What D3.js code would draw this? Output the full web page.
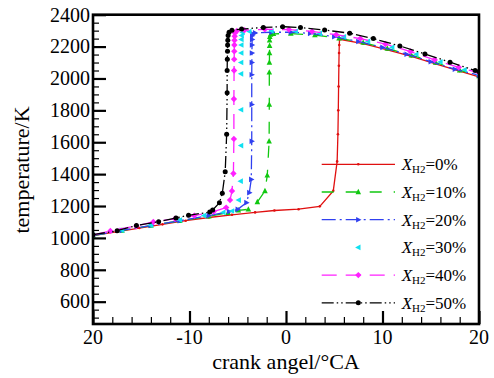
<!DOCTYPE html>
<html>
<head>
<meta charset="utf-8">
<script src="https://cdn.jsdelivr.net/npm/d3@7"></script>
<style>
  body { margin: 0; background: #fff; }
  svg { display: block; }
</style>
</head>
<body>
<svg width="494" height="378"></svg>
<script>
// tick labels
let xTicks = [-20, -10, 0, 10, 20];
let xTickLabels = ['20', '-10', '0', '10', '20'];
let yTicks = [600, 800, 1000, 1200, 1400, 1600, 1800, 2000, 2200, 2400];

let seriesNames = ['0%', '10%', '20%', '30%', '40%', '50%'];

// [crank angle, temperature]
let h2_0 = [[-20,1014],[-17.6,1038],[-15.2,1062],[-12.8,1085],[-10.4,1108],[-8,1128],[-5.6,1145],[-3.2,1160],[-1.2,1172],[1.3,1180],[3.5,1198],[4.9,1295],[5.3,1480],[5.38,1650],[5.42,1800],[5.45,1950],[5.48,2080],[5.5,2160],[5.52,2210],[5.55,2246],[8,2218],[10.5,2180],[13,2138],[15.5,2092],[18,2046],[20,2010]];
let h2_10 = [[-20,1015],[-17,1046],[-14,1077],[-11,1107],[-8,1135],[-6,1158],[-4.94,1173],[-3.9,1179],[-2.97,1225],[-2.18,1294],[-1.94,1392],[-1.75,1606],[-1.73,1836],[-1.73,2038],[-1.72,2100],[-1.71,2160],[-1.7,2205],[-1.7,2240],[-1.68,2262],[-1.6,2275],[-1.3,2280],[0.5,2282],[3,2272],[5.5,2252],[8,2225],[10.5,2188],[13,2146],[15.5,2100],[18,2052],[20,2015]];
let h2_20 = [[-20,1016],[-17,1047],[-14,1078],[-11,1108],[-8,1140],[-5.9,1165],[-5,1179],[-4.1,1221],[-3.8,1284],[-3.6,1367],[-3.55,1606],[-3.55,1836],[-3.55,2023],[-3.54,2100],[-3.53,2160],[-3.52,2210],[-3.51,2245],[-3.5,2268],[-3.45,2280],[-3.2,2286],[-1.5,2290],[0.5,2290],[2.5,2283],[5,2262],[7.5,2232],[10,2195],[12.5,2152],[15,2105],[17.5,2058],[20,2020]];
let h2_30 = [[-20,1017],[-17,1048],[-14,1080],[-11,1112],[-8.5,1140],[-6.5,1160],[-5.6,1169],[-4.9,1237],[-4.7,1356],[-4.66,1579],[-4.66,1804],[-4.66,2029],[-4.65,2100],[-4.64,2160],[-4.63,2210],[-4.62,2245],[-4.6,2270],[-4.5,2288],[-3.8,2295],[-1.5,2298],[1,2296],[3.5,2283],[6,2262],[8.5,2233],[11,2196],[13.5,2152],[16,2104],[18.5,2055],[20,2025]];
let h2_40 = [[-20,1018],[-18.2,1044],[-15.5,1075],[-13.75,1100],[-11.5,1120],[-9.5,1140],[-7.5,1165],[-6.2,1190],[-5.8,1237],[-5.6,1294],[-5.45,1404],[-5.4,1621],[-5.4,1871],[-5.38,2050],[-5.37,2120],[-5.36,2170],[-5.35,2210],[-5.34,2240],[-5.32,2265],[-5.3,2285],[-5.1,2298],[-4.3,2303],[-2.2,2308],[0.3,2307],[2.7,2295],[5.2,2275],[7.7,2250],[10.3,2216],[12.9,2169],[15.4,2117],[17.9,2070],[20,2035]];
let h2_50 = [[-20,1020],[-17.5,1045],[-15.5,1078],[-13.2,1102],[-11.4,1125],[-10.1,1142],[-7.9,1162],[-7.6,1175],[-6.9,1220],[-6.6,1280],[-6.3,1415],[-6.15,1650],[-6.1,1910],[-6.1,2050],[-6.08,2120],[-6.06,2170],[-6.05,2210],[-6.03,2240],[-6.0,2270],[-5.9,2290],[-5.6,2302],[-4.6,2310],[-2.35,2320],[-0.35,2325],[1.5,2319],[4.0,2304],[6.6,2284],[9.05,2250],[11.8,2204],[14.4,2154],[17.0,2102],[19.6,2050],[20,2043]];

let svg = d3.select('svg');
let plotLeft = 93, plotRight = 479, plotTop = 14.7, plotBottom = 324;
let serif = '"Liberation Serif", "Times New Roman", serif';

let x = d3.scaleLinear().domain([-20, 20]).range([plotLeft, plotRight]);
let y = d3.scaleLinear().domain([460, 2400]).range([plotBottom, plotTop]);

let styles = [
  { data: h2_0,  color: '#e01010', dash: null,              marker: 'dot' },
  { data: h2_10, color: '#10c810', dash: '12,12',           marker: 'triUp' },
  { data: h2_20, color: '#3040f0', dash: '14,4,2,4',        marker: 'triRight' },
  { data: h2_30, color: '#10e0f0', dash: 'none',            marker: 'triLeft' },
  { data: h2_40, color: '#ff20ff', dash: '15,9',            marker: 'diamond' },
  { data: h2_50, color: '#000000', dash: '12,3,1.5,3,1.5,3', marker: 'circle' }
];

let markerPath = {
  dot: 'M-1.3,0a1.3,1.3 0 1,0 2.6,0a1.3,1.3 0 1,0 -2.6,0',
  circle: 'M-2.5,0a2.5,2.5 0 1,0 5,0a2.5,2.5 0 1,0 -5,0',
  triUp: 'M0,-3.2L2.8,2.2L-2.8,2.2Z',
  triRight: 'M3.2,0L-2.2,2.8L-2.2,-2.8Z',
  triLeft: 'M-3.2,0L2.2,2.8L2.2,-2.8Z',
  diamond: 'M0,-3.2L3.2,0L0,3.2L-3.2,0Z'
};

svg.append('clipPath').attr('id', 'plot-clip')
  .append('rect')
  .attr('x', plotLeft).attr('y', plotTop)
  .attr('width', plotRight - plotLeft).attr('height', plotBottom - plotTop);

let line = d3.line().x(d => x(d[0])).y(d => y(d[1]));

let plot = svg.append('g').attr('clip-path', 'url(#plot-clip)');

styles.forEach(s => {
  if (s.dash !== 'none') {
    plot.append('path')
      .datum(s.data)
      .attr('d', line)
      .attr('fill', 'none')
      .attr('stroke', s.color)
      .attr('stroke-width', 1.3)
      .attr('stroke-dasharray', s.dash);
  }
  plot.selectAll(null)
    .data(s.data)
    .enter().append('path')
    .attr('d', markerPath[s.marker])
    .attr('transform', d => `translate(${x(d[0])},${y(d[1])})`)
    .attr('fill', s.color);
});

// axes: major + minor ticks pointing inward
let xMinor = d3.range(-18, 20, 2).filter(v => v % 10 !== 0);
let yMinor = d3.range(500, 2400, 50).filter(v => v % 200 !== 0);

svg.append('g')
  .attr('transform', `translate(0,${plotBottom})`)
  .call(d3.axisBottom(x).tickValues(xMinor).tickSize(-7).tickFormat(''))
  .call(g => g.selectAll('line').attr('stroke-width', 1.2))
  .call(g => g.select('.domain').remove());

svg.append('g')
  .attr('transform', `translate(0,${plotBottom})`)
  .call(d3.axisBottom(x).tickValues(xTicks).tickSize(-13).tickFormat(''))
  .call(g => g.selectAll('line').attr('stroke-width', 2.2))
  .call(g => g.select('.domain').remove());

svg.append('g')
  .attr('transform', `translate(${plotLeft},0)`)
  .call(d3.axisLeft(y).tickValues(yMinor).tickSize(-6).tickFormat(''))
  .call(g => g.selectAll('line').attr('stroke-width', 1.2))
  .call(g => g.select('.domain').remove());

svg.append('g')
  .attr('transform', `translate(${plotLeft},0)`)
  .call(d3.axisLeft(y).tickValues(yTicks).tickSize(-13).tickFormat(''))
  .call(g => g.selectAll('line').attr('stroke-width', 2.2))
  .call(g => g.select('.domain').remove());

// frame
svg.append('rect')
  .attr('x', plotLeft).attr('y', plotTop)
  .attr('width', plotRight - plotLeft).attr('height', plotBottom - plotTop)
  .attr('fill', 'none')
  .attr('stroke', '#000')
  .attr('stroke-width', 2.6);

// tick labels
svg.selectAll('.xlab')
  .data(xTicks)
  .enter().append('text')
  .style('font-family', serif)
  .style('font-size', '20px')
  .attr('x', d => x(d))
  .attr('y', 343.5)
  .attr('text-anchor', 'middle')
  .text((d, i) => xTickLabels[i]);

svg.selectAll('.ylab')
  .data(yTicks)
  .enter().append('text')
  .style('font-family', serif)
  .style('font-size', '20px')
  .attr('x', 90)
  .attr('y', d => y(d))
  .attr('dy', '0.34em')
  .attr('text-anchor', 'end')
  .text(d => d);

// axis titles
svg.append('text')
  .style('font-family', serif)
  .style('font-size', '22px')
  .attr('x', 286).attr('y', 369)
  .attr('text-anchor', 'middle')
  .text('crank angel/°CA');

svg.append('text')
  .style('font-family', serif)
  .style('font-size', '22px')
  .attr('transform', 'translate(29,170) rotate(-90)')
  .attr('text-anchor', 'middle')
  .text('temperature/K');

// legend
let legendY0 = 164.3, legendStep = 27.7;
let legend = svg.selectAll('.legend')
  .data(styles)
  .enter().append('g')
  .attr('transform', (d, i) => `translate(0,${legendY0 + i * legendStep})`);

legend.filter(d => d.dash !== 'none')
  .append('line')
  .attr('x1', 321.7).attr('x2', 395)
  .attr('stroke', d => d.color)
  .attr('stroke-width', 1.3)
  .attr('stroke-dasharray', d => d.dash);

legend.append('path')
  .attr('d', d => markerPath[d.marker])
  .attr('transform', 'translate(358.3,0)')
  .attr('fill', d => d.color);

let lt = legend.append('text')
  .style('font-family', serif)
  .style('font-size', '17px')
  .attr('x', 401.7).attr('y', 6);
lt.append('tspan').style('font-style', 'italic').text('X');
lt.append('tspan').style('font-size', '11px').attr('dy', 3).text('H2');
lt.append('tspan').attr('dy', -3).text((d, i) => '=' + seriesNames[i]);
</script>
</body>
</html>
